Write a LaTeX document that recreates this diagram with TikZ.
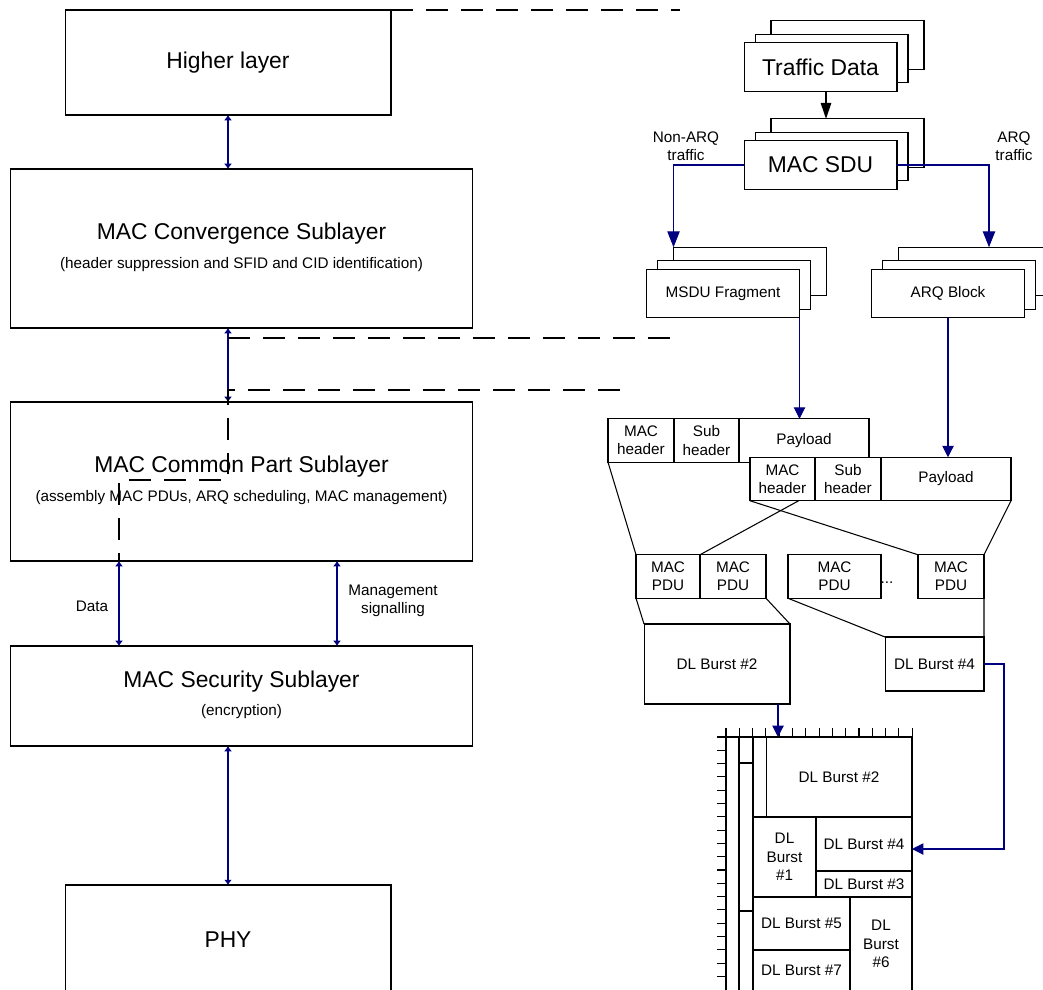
\documentclass[tikz,border=0pt]{standalone}
\usepackage{fontspec}
\setmainfont{Liberation Sans}
\usetikzlibrary{positioning,shadows,arrows.meta}
\definecolor{LinkBlue}{HTML}{000080}

\begin{document}
\begin{tikzpicture}[
    x=0.02cm, y=-0.02cm, line width=0.6pt,
    box/.style={draw,fill=white,inner sep=0pt,outer sep=0pt,align=center},
    bigtext/.style={font=\fontsize{13}{15.6}\selectfont},
    smalltext/.style={font=\fontsize{8.7}{10.4}\selectfont,align=center},
    layer/.style={box,bigtext},
    stack/.style={box,minimum width=3.06cm,minimum height=0.97cm,
      copy shadow={shadow xshift=0.54cm,shadow yshift=0.44cm,fill=white,draw=black},
      copy shadow={shadow xshift=0.22cm,shadow yshift=0.17cm,fill=white,draw=black}},
    cell/.style={box,smalltext,minimum height=0.87cm},
    dblarrow/.style={{Latex[length=3pt,width=4.5pt]}-{Latex[length=3pt,width=4.5pt]},LinkBlue},
    flow/.style={-{Triangle[length=6.5pt,width=6.5pt]},LinkBlue},
    splitarrow/.style={-{Triangle[length=9pt,width=7pt]},LinkBlue},
    blkarrow/.style={-{Triangle[length=9pt,width=6pt]},black},
    dashline/.style={line width=0.75pt,dash pattern=on 12.5pt off 7.4pt}
  ]
    \useasboundingbox (0,0) rectangle (1043,989);
    \clip (0,0) rectangle (1043,989);

    % protocol layers
    \node[layer,minimum width=6.52cm,minimum height=2.1cm] (hl) at (228,62.5) {Higher layer};
    \node[layer,minimum width=9.26cm,minimum height=3.18cm] (cs) at (241.5,248.5) {};
    \node[bigtext] (cstitle) at (241.5,234) {MAC Convergence Sublayer};
    \node[smalltext] (cssub) at (241.5,265) {(header suppression and SFID and CID identification)};
    \node[layer,minimum width=9.26cm,minimum height=3.18cm] (cp) at (241.5,481.5) {};
    \node[bigtext] (cptitle) at (241.5,467) {MAC Common Part Sublayer};
    \node[smalltext] (cpsub) at (241.5,498) {(assembly MAC PDUs, ARQ scheduling, MAC management)};
    \node[layer,minimum width=9.26cm,minimum height=2cm] (ss) at (241.5,696) {};
    \node[bigtext] (sstitle) at (241.5,682) {MAC Security Sublayer};
    \node[smalltext] (sssub) at (241.5,712) {(encryption)};
    \node[layer,minimum width=6.52cm,minimum height=2.2cm] (phy) at (228,940) {PHY};

    \draw[dblarrow] (hl.south) -- (hl.south |- cs.north);
    \draw[dblarrow] (hl.south |- cs.south) -- (hl.south |- cp.north);
    \draw[dblarrow] (119,0 |- cp.south) -- (119,0 |- ss.north);
    \draw[dblarrow] (337,0 |- cp.south) -- (337,0 |- ss.north);
    \draw[dblarrow] (ss.south -| hl.south) -- (phy.north);
    \node[smalltext] (data) at (92,606) {Data};
    \node[smalltext] (mgmt) at (393,601) {Management\\signalling};

    % dashed mapping lines
    \draw[dashline] (hl.north east) -- ++(289,0);
    \draw[dashline] (hl.south |- 0,338) -- (675,338);
    \draw[dashline] (620,390) -- (hl.south |- 0,390) -- (hl.south |- 0,480) -- (119,480) -- (119,0 |- cp.south);

    % traffic and SDUs
    \node[stack,bigtext] (td) at (820.5,67) {Traffic Data};
    \node[stack,bigtext] (sdu) at (820.5,165) {MAC SDU};
    \node[stack,smalltext] (frag) at (723,293.5) {MSDU Fragment};
    \node[stack,smalltext] (arqb) at (948,293.5) {ARQ Block};
    \draw[blkarrow] ([xshift=0.11cm]td.south) -- ([xshift=0.11cm,yshift=0.44cm]sdu.north);
    \draw[splitarrow] (sdu.west) -| ([xshift=0.54cm,yshift=0.44cm]frag.north west);
    \draw[splitarrow] (sdu.east) -| ([xshift=0.82cm,yshift=0.44cm]arqb.north);
    \node[smalltext] (nonarq) at (686,146) {Non-ARQ\\traffic};
    \node[smalltext] (arq) at (1014,146) {ARQ\\traffic};

    % MAC PDUs
    \node[cell,minimum width=1.32cm] (mh1) at (641,440.5) {MAC\\header};
    \node[cell,minimum width=1.3cm,right=0pt of mh1] (sh1) {Sub\\header};
    \node[cell,minimum width=2.6cm,right=0pt of sh1] (pl1) {Payload};
    \draw[flow] (frag.south east) -- (frag.south east |- pl1.north);

    \node[cell,minimum width=1.28cm] (pdu1) at (668,576.5) {MAC\\PDU};
    \node[cell,minimum width=1.32cm,right=0pt of pdu1] (pdu2) {MAC\\PDU};
    \node[cell,minimum width=1.86cm] (pdu3) at (834.5,576.5) {MAC\\PDU};
    \node[cell,minimum width=1.32cm] (pdu4) at (951,576.5) {MAC\\PDU};
    \node[smalltext,anchor=base] (gap) at (887,583) {...};
    \draw (mh1.south west) -- (pdu1.north west);
    \draw (pl1.south east) -- (pdu2.north west);

    \node[cell,minimum width=1.3cm] (mh2) at (782.5,479) {MAC\\header};
    \node[cell,minimum width=1.32cm,right=0pt of mh2] (sh2) {Sub\\header};
    \node[cell,minimum width=2.6cm,right=0pt of sh2] (pl2) {Payload};
    \draw[flow] (arqb.south) -- (arqb.south |- pl2.north);
    \draw (mh2.south west) -- (pdu4.north west);
    \draw (pl2.south east) -- (pdu4.north east);

    % bursts
    \node[box,smalltext,minimum width=2.92cm,minimum height=1.6cm] (b2) at (717,664) {DL Burst \#2};
    \node[box,smalltext,minimum width=1.98cm,minimum height=1.08cm] (b4) at (934.5,664) {DL Burst \#4};
    \draw (pdu1.south west) -- (b2.north west);
    \draw (pdu2.south east) -- (b2.north east);
    \draw (pdu3.south west) -- (b4.north west);
    \draw (pdu4.south east) -- (b4.north east);

    % downlink subframe
    \foreach \i in {0,...,14}
      \draw ({726+13.3*\i},728) -- ({726+13.3*\i},737);
    \foreach \j in {0,...,18}
      \draw (717,{737+13.3*\j}) -- (726,{737+13.3*\j});
    \draw (726,1000) -- (726,737) -- (912,737);
    \draw (739,737) -- (739,1000);
    \draw (753,737) -- (753,1000);
    \draw (739,763) -- (753,763);
    \draw (739,911) -- (753,911);
    \node[box,smalltext,minimum width=2.92cm,minimum height=1.6cm] (g2) at (839,777) {DL Burst \#2};
    \node[box,smalltext,minimum width=1.26cm,minimum height=1.6cm] (g1) at (784.5,857) {DL\\Burst\\\#1};
    \node[box,smalltext,minimum width=1.92cm,minimum height=1.08cm] (g4) at (864,844) {DL Burst \#4};
    \node[box,smalltext,minimum width=1.92cm,minimum height=0.52cm] (g3) at (864,884) {DL Burst \#3};
    \node[box,smalltext,minimum width=1.94cm,minimum height=1.06cm] (g5) at (801.5,923.5) {DL Burst \#5};
    \node[box,smalltext,minimum width=1.94cm,minimum height=0.82cm] (g7) at (801.5,970.5) {DL Burst \#7};
    \node[box,smalltext,minimum width=1.24cm,minimum height=1.88cm] (g6) at (881,944) {DL\\Burst\\\#6};

    \draw[flow] (778,0 |- b2.south) -- (778,0 |- g2.north);
    \draw[flow] (b4.east) -- (1004,0 |- b4.east) |- ([yshift=-0.1cm]g4.east);
  \end{tikzpicture}
\end{document}
